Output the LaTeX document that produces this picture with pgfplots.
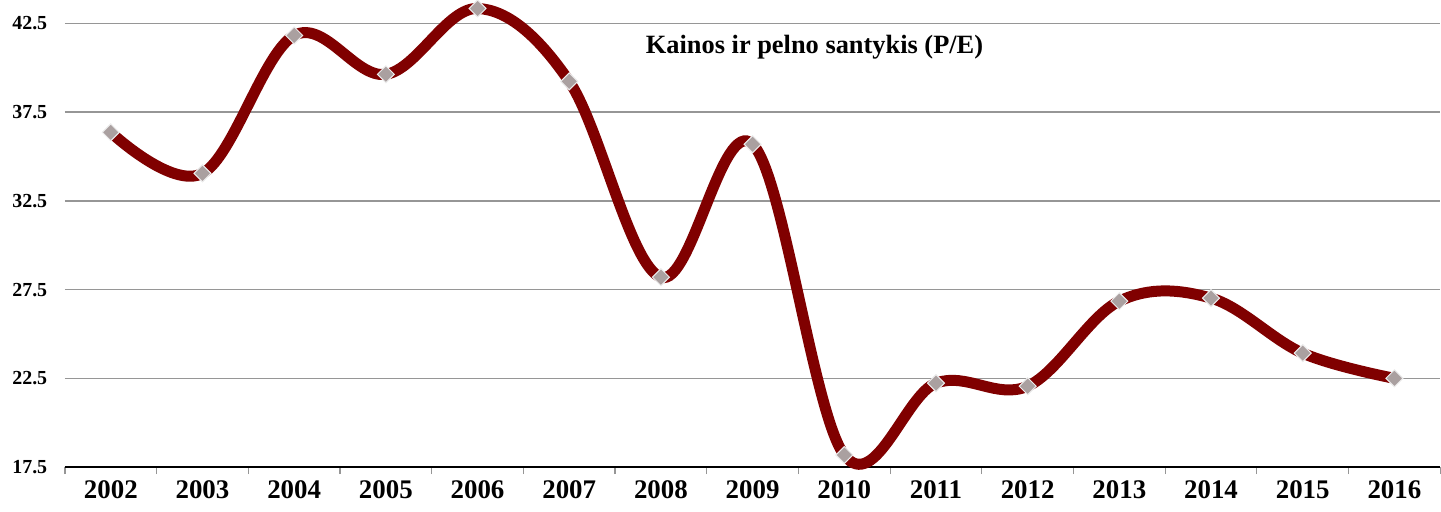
\documentclass[border=0pt]{standalone}
\usepackage{pgfplots}
\pgfplotsset{compat=1.18}
\usepackage{fontspec}
\setmainfont{Liberation Serif}
\definecolor{pecolor}{RGB}{128,0,0}
\definecolor{gridgray}{RGB}{150,150,150}
\definecolor{markgray}{RGB}{170,160,160}
\begin{document}
\begin{tikzpicture}
\begin{axis}[
  scale only axis,
  width=1376bp, height=467bp,
  xmin=-0.5, xmax=14.5,
  ymin=17.5, ymax=43.8,
  clip=false,
  axis x line*=bottom,
  axis y line*=left,
  y axis line style={draw=none},
  x axis line style={black, line width=1.2bp},
  xtick={0,...,14},
  xticklabels={2002,2003,2004,2005,2006,2007,2008,2009,2010,2011,2012,2013,2014,2015,2016},
  major x tick style={draw=none},
  minor xtick={-0.5,0.5,...,14.5},
  minor x tick style={gridgray, line width=1.2bp},
  minor tick length=7bp,
  tick align=outside,
  ytick={17.5,22.5,27.5,32.5,37.5,42.5},
  major y tick style={draw=none},
  ymajorgrids,
  grid style={gridgray, line width=1.5bp},
  yticklabel style={/pgf/number format/fixed, /pgf/number format/fixed zerofill, /pgf/number format/precision=1, font=\bfseries\fontsize{20}{24}\selectfont, xshift=-10bp},
  xticklabel style={font=\bfseries\fontsize{27}{32}\selectfont, yshift=-6bp},
  /pgf/number format/assume math mode=true,
]
\addplot[pecolor, line width=11bp, smooth, tension=0.6,
  mark=square*, mark size=6bp,
  mark options={rotate=45, fill=markgray, draw=white!85!gray, line width=1bp, solid}]
coordinates {
(0,36.36) (1,34.05) (2,41.82) (3,39.63) (4,43.34) (5,39.23) (6,28.2) (7,35.69)
(8,18.18) (9,22.23) (10,22.06) (11,26.85) (12,27.02) (13,23.92) (14,22.5)
};
\node[font=\bfseries\fontsize{26.5}{30}\selectfont] at (rel axis cs:0.545,0.9) {Kainos ir pelno santykis (P/E)};
\end{axis}
\path (current axis.south west) ++(-65bp,-44bp) rectangle (current axis.north east);
\end{tikzpicture}
\end{document}
